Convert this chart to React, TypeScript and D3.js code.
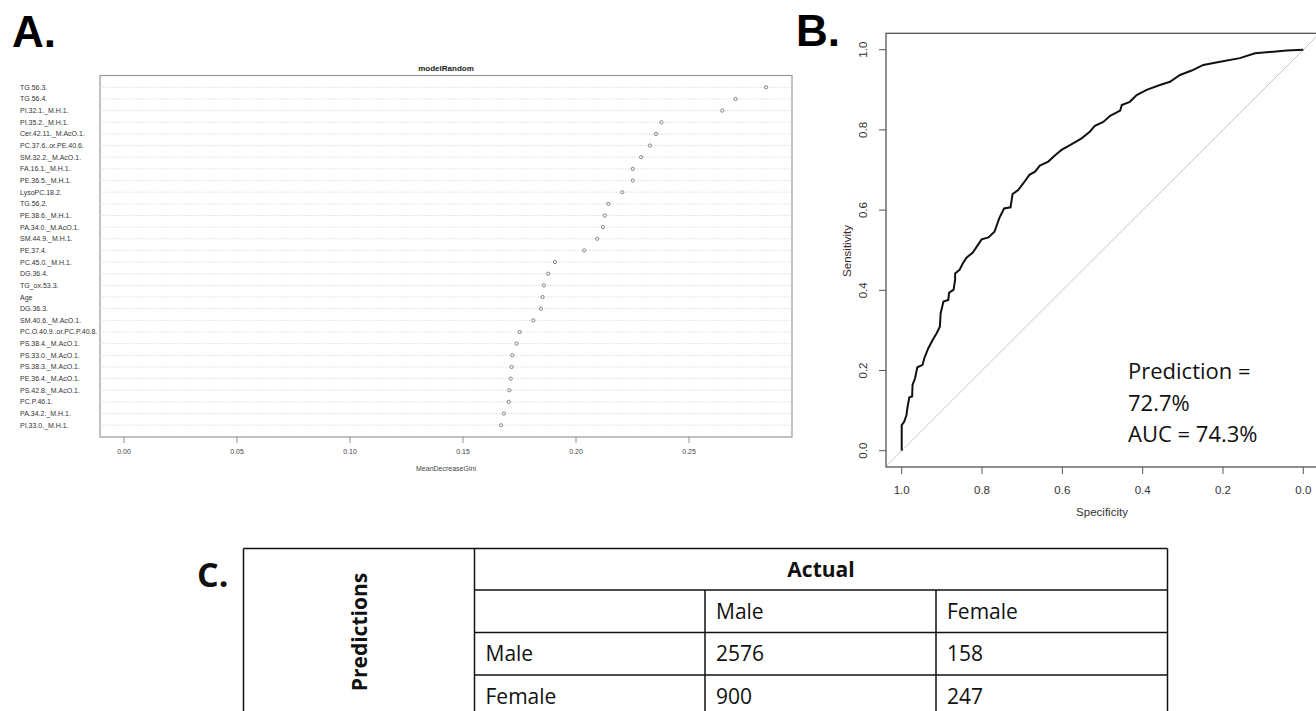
import React from "react";
import { scaleLinear, scalePoint, line, curveLinear } from "d3";

// panel A: variable importance (MeanDecreaseGini), top to bottom
const features = [
  "TG.56.3.", "TG.56.4.", "PI.32.1._M.H.1.", "PI.35.2._M.H.1.", "Cer.42.11._M.AcO.1.",
  "PC.37.6..or.PE.40.6.", "SM.32.2._M.AcO.1.", "FA.16.1._M.H.1.", "PE.36.5._M.H.1.", "LysoPC.18.2.",
  "TG.56.2.", "PE.38.6._M.H.1.", "PA.34.0._M.AcO.1.", "SM.44.9._M.H.1.", "PE.37.4.",
  "PC.45.0._M.H.1.", "DG.36.4.", "TG_ox.53.3.", "Age", "DG.36.3.",
  "SM.40.6._M.AcO.1.", "PC.O.40.9..or.PC.P.40.8.", "PS.38.4._M.AcO.1.", "PS.33.0._M.AcO.1.", "PS.38.3._M.AcO.1.",
  "PE.36.4._M.AcO.1.", "PS.42.8._M.AcO.1.", "PC.P.46.1.", "PA.34.2._M.H.1.", "PI.33.0._M.H.1.",
];
const giniValues = [
  0.2841, 0.2706, 0.2647, 0.2378, 0.2354,
  0.2327, 0.2288, 0.2251, 0.2251, 0.2205,
  0.2143, 0.2127, 0.2119, 0.2094, 0.2036,
  0.1907, 0.1877, 0.1858, 0.1852, 0.1845,
  0.1811, 0.1751, 0.1737, 0.1718, 0.1715,
  0.1711, 0.1705, 0.1702, 0.1681, 0.1668,
];
const giniTicks = [0, 0.05, 0.1, 0.15, 0.2, 0.25];

// panel B: ROC curve
const rocSpecificity = [
  1, 1, 0.994, 0.988, 0.986, 0.981, 0.974, 0.973, 0.967, 0.961,
  0.948, 0.944, 0.934, 0.923, 0.913, 0.905, 0.903, 0.896, 0.884, 0.882,
  0.871, 0.867, 0.867, 0.856, 0.848, 0.838, 0.823, 0.813, 0.801, 0.784,
  0.769, 0.757, 0.745, 0.729, 0.724, 0.71, 0.697, 0.682, 0.668, 0.656,
  0.635, 0.618, 0.602, 0.581, 0.552, 0.531, 0.519, 0.498, 0.481, 0.456,
  0.452, 0.432, 0.415, 0.39, 0.357, 0.332, 0.307, 0.278, 0.249, 0.207,
  0.158, 0.12, 0.075, 0.041, 0,
];
const rocSensitivity = [
  0, 0.064, 0.072, 0.089, 0.106, 0.133, 0.135, 0.164, 0.18, 0.208,
  0.214, 0.23, 0.255, 0.276, 0.293, 0.309, 0.343, 0.372, 0.376, 0.394,
  0.401, 0.426, 0.442, 0.451, 0.467, 0.482, 0.494, 0.509, 0.527, 0.532,
  0.546, 0.58, 0.604, 0.607, 0.64, 0.65, 0.667, 0.688, 0.696, 0.711,
  0.721, 0.737, 0.75, 0.762, 0.779, 0.796, 0.81, 0.82, 0.835, 0.848,
  0.862, 0.87, 0.887, 0.9, 0.912, 0.92, 0.937, 0.948, 0.962, 0.97,
  0.979, 0.991, 0.995, 0.998, 1,
];
const rocTicks = [1, 0.8, 0.6, 0.4, 0.2, 0];
const rocNotes = ["Prediction =", "72.7%", "AUC = 74.3%"];

// panel C: confusion matrix
const actualClasses = ["Male", "Female"];
const predictedClasses = ["Male", "Female"];
const confusion = [
  [2576, 158],
  [900, 247],
];

const rFont = "'Liberation Sans', Arial, sans-serif";
const officeFont = "'Open Sans', 'Noto Sans', sans-serif";

function PanelA() {
  const frame = { left: 100, right: 792, top: 75.5, bottom: 437 };
  const x = scaleLinear().domain([0, 0.3]).range([124, 124 + 0.3 * 2260]);
  const y = scalePoint().domain(features).range([87.3, 425.2]);
  return (
    <g>
      <text x={12} y={46.5} fontFamily={rFont} fontWeight="bold" fontSize={44}>A.</text>
      <text x={446} y={71} textAnchor="middle" fontFamily={rFont} fontWeight="bold" fontSize={8} fill="#222">modelRandom</text>
      <rect x={frame.left} y={frame.top} width={frame.right - frame.left} height={frame.bottom - frame.top}
        fill="none" stroke="#999" strokeWidth={1.2} />
      {features.map((f, i) => (
        <g key={f}>
          <line x1={frame.left} x2={frame.right} y1={y(f)} y2={y(f)} stroke="#d4d4d4" strokeWidth={0.8} strokeDasharray="1.5,1.5" />
          <text x={20} y={y(f)! + 2.5} fontFamily={rFont} fontSize={7} fill="#333">{f}</text>
          <circle cx={x(giniValues[i])} cy={y(f)} r={1.6} fill="white" stroke="#666" strokeWidth={0.8} />
        </g>
      ))}
      {giniTicks.map((t) => (
        <g key={t}>
          <line x1={x(t)} x2={x(t)} y1={frame.bottom} y2={frame.bottom + 6} stroke="#777" strokeWidth={0.8} />
          <text x={x(t)} y={frame.bottom + 17} textAnchor="middle" fontFamily={rFont} fontSize={7} fill="#444">{t.toFixed(2)}</text>
        </g>
      ))}
      <text x={446} y={471} textAnchor="middle" fontFamily={rFont} fontSize={7} fill="#444">MeanDecreaseGini</text>
    </g>
  );
}

function PanelB() {
  const frame = { left: 886, right: 1320, top: 33.3, bottom: 467 };
  const x = scaleLinear().domain([1, 0]).range([901.7, 1303.3]);
  const y = scaleLinear().domain([0, 1]).range([450.7, 49.7]);
  const roc = line<number>()
    .x((d) => x(d))
    .y((_, i) => y(rocSensitivity[i]))
    .curve(curveLinear);
  // chance diagonal, clipped to the box
  const s0 = x.invert(frame.left);
  const s1 = x.invert(1316);
  return (
    <g>
      <text x={796} y={46} fontFamily={rFont} fontWeight="bold" fontSize={44}>B.</text>
      <clipPath id="rocClip">
        <rect x={frame.left} y={frame.top} width={frame.right - frame.left} height={frame.bottom - frame.top} />
      </clipPath>
      <line x1={x(s0)} y1={y(1 - s0)} x2={x(s1)} y2={y(1 - s1)} stroke="#c8c8c8" strokeWidth={1} clipPath="url(#rocClip)" />
      <path d={roc(rocSpecificity) ?? ""} fill="none" stroke="#111" strokeWidth={2} />
      <rect x={frame.left} y={frame.top} width={frame.right - frame.left} height={frame.bottom - frame.top}
        fill="none" stroke="#555" strokeWidth={1.3} />
      {rocTicks.map((t) => (
        <g key={"x" + t}>
          <line x1={x(t)} x2={x(t)} y1={frame.bottom} y2={frame.bottom + 7} stroke="#555" strokeWidth={1} />
          <text x={x(t)} y={494} textAnchor="middle" fontFamily={rFont} fontSize={11.5} fill="#333">{t.toFixed(1)}</text>
        </g>
      ))}
      {rocTicks.map((t) => (
        <g key={"y" + t}>
          <line x1={frame.left - 7} x2={frame.left} y1={y(t)} y2={y(t)} stroke="#555" strokeWidth={1} />
          <text transform={`translate(867,${y(t)}) rotate(-90)`} textAnchor="middle" fontFamily={rFont} fontSize={11.5} fill="#333">{t.toFixed(1)}</text>
        </g>
      ))}
      <text x={1102} y={516} textAnchor="middle" fontFamily={rFont} fontSize={11.5} fill="#333">Specificity</text>
      <text transform="translate(851,251) rotate(-90)" textAnchor="middle" fontFamily={rFont} fontSize={11.5} fill="#3a2a2a">Sensitivity</text>
      {rocNotes.map((n, i) => (
        <text key={n} x={1128} y={379 + i * 31.5} fontFamily={officeFont} fontSize={22} fill="#111">{n}</text>
      ))}
    </g>
  );
}

function PanelC() {
  const cols = [243.5, 474.5, 705, 936, 1167.5];
  const rows = [548.5, 590, 632.5, 675, 717];
  const pad = 11;
  return (
    <g fontFamily={officeFont} fontSize={21} fill="#111">
      <text x={197} y={587} fontFamily={officeFont} fontWeight="bold" fontSize={34}>C.</text>
      {/* outer and internal lines */}
      <line x1={cols[0]} x2={cols[4]} y1={rows[0]} y2={rows[0]} stroke="#111" strokeWidth={1.5} />
      {rows.slice(1, 4).map((r) => (
        <line key={r} x1={cols[1]} x2={cols[4]} y1={r} y2={r} stroke="#111" strokeWidth={1.5} />
      ))}
      <line x1={cols[0]} x2={cols[0]} y1={rows[0]} y2={rows[4]} stroke="#111" strokeWidth={1.5} />
      <line x1={cols[1]} x2={cols[1]} y1={rows[0]} y2={rows[4]} stroke="#111" strokeWidth={1.5} />
      <line x1={cols[2]} x2={cols[2]} y1={rows[1]} y2={rows[4]} stroke="#111" strokeWidth={1.5} />
      <line x1={cols[3]} x2={cols[3]} y1={rows[1]} y2={rows[4]} stroke="#111" strokeWidth={1.5} />
      <line x1={cols[4]} x2={cols[4]} y1={rows[0]} y2={rows[4]} stroke="#111" strokeWidth={1.5} />

      <text transform="translate(367,632) rotate(-90)" textAnchor="middle" fontWeight="bold" fontSize={21}>Predictions</text>
      <text x={(cols[1] + cols[4]) / 2} y={rows[0] + 28.5} textAnchor="middle" fontWeight="bold">Actual</text>
      {actualClasses.map((c, j) => (
        <text key={"h" + c} x={cols[2 + j] + pad} y={rows[1] + 28.5}>{c}</text>
      ))}
      {predictedClasses.map((p, i) => (
        <g key={"r" + p}>
          <text x={cols[1] + pad} y={rows[2 + i] + 28.5}>{p}</text>
          {confusion[i].map((v, j) => (
            <text key={j} x={cols[2 + j] + pad} y={rows[2 + i] + 28.5}>{v}</text>
          ))}
        </g>
      ))}
    </g>
  );
}

export default function App() {
  return (
    <svg width={1316} height={711} style={{ position: "absolute", left: 0, top: 0, background: "white" }}>
      <rect width={1316} height={711} fill="white" />
      <PanelA />
      <PanelB />
      <PanelC />
    </svg>
  );
}
